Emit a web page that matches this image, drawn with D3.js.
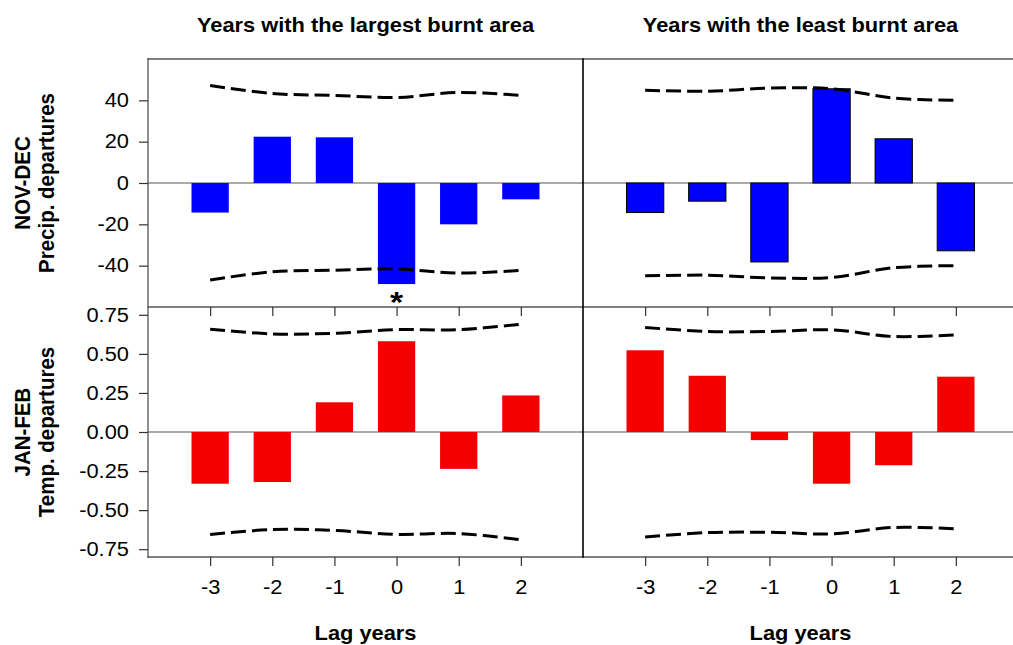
<!DOCTYPE html>
<html>
<head>
<meta charset="utf-8">
<script src="https://cdn.jsdelivr.net/npm/d3@7"></script>
<style>
  html, body { margin: 0; padding: 0; background: #fff; }
  svg { display: block; font-family: "Liberation Sans", Arial, sans-serif; }
</style>
</head>
<body>
<svg id="chart" width="1013" height="645"></svg>
<script>
// Lag years relative to the fire year
const lags = [-3, -2, -1, 0, 1, 2];

// NOV-DEC precipitation departures
const precipLargest      = [-14.3, 22.4, 22.1, -48.9, -20.0, -7.9];
const precipLargestUpper = [47.2, 43.3, 42.4, 41.4, 43.8, 42.4];
const precipLargestLower = [-46.9, -43.0, -42.2, -41.6, -43.6, -42.3];
const precipLeast        = [-14.3, -8.8, -38.2, 45.6, 21.4, -32.8];
const precipLeastUpper   = [44.9, 44.4, 45.9, 45.6, 41.1, 40.0];
const precipLeastLower   = [-44.9, -44.6, -45.9, -45.7, -41.0, -40.0];

// JAN-FEB temperature departures
const tempLargest      = [-0.331, -0.320, 0.190, 0.581, -0.236, 0.234];
const tempLargestUpper = [0.658, 0.628, 0.632, 0.655, 0.655, 0.690];
const tempLargestLower = [-0.656, -0.624, -0.630, -0.655, -0.650, -0.690];
const tempLeast        = [0.523, 0.360, -0.052, -0.331, -0.213, 0.354];
const tempLeastUpper   = [0.669, 0.643, 0.643, 0.654, 0.611, 0.622];
const tempLeastLower   = [-0.672, -0.644, -0.642, -0.652, -0.611, -0.620];

// Axis ticks and labels
const precipTicks = [-40, -20, 0, 20, 40];
const tempTicks = [-0.75, -0.50, -0.25, 0.00, 0.25, 0.50, 0.75];
const columnTitles = ["Years with the largest burnt area", "Years with the least burnt area"];
const rowTitles = [["NOV-DEC", "Precip. departures"], ["JAN-FEB", "Temp. departures"]];
const xTitle = "Lag years";
const significant = [{ col: 0, row: 0, lag: 0 }];

const svg = d3.select("#chart");

// Layout
const colLeft = [148, 583];
const panelW = 435;
const rowTop = [59, 307];
const panelH = [248, 250];
const stretch = 1.12;   // horizontal widening of all lettering
const fontSize = 19.5;

const xScales = colLeft.map(l => d3.scaleLinear().domain([-4, 3]).range([l, l + panelW]));
const yScales = [
  d3.scaleLinear().domain([-60, 60]).range([rowTop[0] + panelH[0], rowTop[0]]),
  d3.scaleLinear().domain([-0.8, 0.8]).range([rowTop[1] + panelH[1], rowTop[1]])
];

const panels = [
  { row: 0, col: 0, values: precipLargest, upper: precipLargestUpper, lower: precipLargestLower, fill: "#0000ff", stroke: "none" },
  { row: 0, col: 1, values: precipLeast,   upper: precipLeastUpper,   lower: precipLeastLower,   fill: "#0000ff", stroke: "#000" },
  { row: 1, col: 0, values: tempLargest,   upper: tempLargestUpper,   lower: tempLargestLower,   fill: "#f50000", stroke: "none" },
  { row: 1, col: 1, values: tempLeast,     upper: tempLeastUpper,     lower: tempLeastLower,     fill: "#f50000", stroke: "none" }
];

const barW = 0.6;

panels.forEach(p => {
  const x = xScales[p.col];
  const y = yScales[p.row];
  const g = svg.append("g");

  // zero reference line
  g.append("line")
    .attr("x1", x.range()[0]).attr("x2", x.range()[1])
    .attr("y1", y(0)).attr("y2", y(0))
    .attr("stroke", "#555").attr("stroke-width", 1.2);

  // bars
  g.selectAll("rect").data(lags.map((l, i) => ({ lag: l, v: p.values[i] })))
    .join("rect")
    .attr("x", d => x(d.lag - barW / 2))
    .attr("width", d => x(d.lag + barW / 2) - x(d.lag - barW / 2))
    .attr("y", d => y(Math.max(0, d.v)))
    .attr("height", d => Math.abs(y(d.v) - y(0)))
    .attr("fill", p.fill)
    .attr("stroke", p.stroke)
    .attr("stroke-width", 1);

  // confidence bounds
  const line = d3.line().x(d => x(d[0])).y(d => y(d[1])).curve(d3.curveCatmullRom.alpha(0.5));
  [p.upper, p.lower].forEach(b => {
    g.append("path")
      .attr("d", line(lags.map((l, i) => [l, b[i]])))
      .attr("fill", "none")
      .attr("stroke", "#000")
      .attr("stroke-width", 3)
      .attr("stroke-dasharray", "15,6");
  });
});

// Text helper: horizontally widened lettering
function label(x, y, txt, opts = {}) {
  return svg.append("text")
    .attr("transform", `translate(${x},${y}) scale(${stretch},1)`)
    .attr("text-anchor", opts.anchor || "middle")
    .attr("font-size", opts.size || fontSize)
    .attr("font-weight", opts.weight || "bold")
    .text(txt);
}

// Significance markers
significant.forEach(s => {
  const x = xScales[s.col], y = yScales[s.row];
  const i = lags.indexOf(s.lag);
  const vals = s.row === 0 ? (s.col === 0 ? precipLargest : precipLeast) : (s.col === 0 ? tempLargest : tempLeast);
  label(x(s.lag), y(vals[i]) + 28, "*", { size: 30 });
});

// Frame lines
const frame = svg.append("g").attr("stroke-linecap", "square");
const right = colLeft[1] + panelW;
const bottom = rowTop[1] + panelH[1];
frame.append("line").attr("x1", colLeft[0]).attr("x2", right).attr("y1", rowTop[0]).attr("y2", rowTop[0]).attr("stroke", "#555").attr("stroke-width", 1.3);
frame.append("line").attr("x1", colLeft[0]).attr("x2", right).attr("y1", rowTop[1]).attr("y2", rowTop[1]).attr("stroke", "#555").attr("stroke-width", 1.3);
frame.append("line").attr("x1", colLeft[0]).attr("x2", right).attr("y1", bottom).attr("y2", bottom).attr("stroke", "#555").attr("stroke-width", 1.3);
frame.append("line").attr("x1", colLeft[0]).attr("x2", colLeft[0]).attr("y1", rowTop[0]).attr("y2", bottom).attr("stroke", "#555").attr("stroke-width", 1.3);
frame.append("line").attr("x1", colLeft[1]).attr("x2", colLeft[1]).attr("y1", rowTop[0]).attr("y2", bottom).attr("stroke", "#000").attr("stroke-width", 1.6);

// Axes
const hyphen = f => d => f(d).replace("\u2212", "-");
function styleAxis(sel) {
  sel.select(".domain").remove();
  sel.selectAll(".tick line").attr("stroke", "#333").attr("stroke-width", 1.2);
  sel.selectAll(".tick text").attr("font-size", fontSize).attr("fill", "#000")
    .attr("font-family", "Liberation Sans, Arial, sans-serif")
    .attr("transform", `scale(${stretch},1)`);
}
[[yScales[0], precipTicks, d3.format("d")], [yScales[1], tempTicks, d3.format(".2f")]].forEach(([ys, tv, fmt]) => {
  svg.append("g").attr("transform", `translate(${colLeft[0]},0)`)
    .call(d3.axisLeft(ys).tickValues(tv).tickSize(9).tickFormat(hyphen(fmt)))
    .call(styleAxis)
    .call(g => g.selectAll(".tick text").attr("x", -17));
});

xScales.forEach(x => {
  // inner ticks at the top of the lower row
  svg.append("g").attr("transform", `translate(0,${rowTop[1]})`)
    .call(d3.axisBottom(x).tickValues(lags).tickSize(9).tickFormat(""))
    .call(styleAxis);
  // labelled ticks along the bottom
  svg.append("g").attr("transform", `translate(0,${bottom})`)
    .call(d3.axisBottom(x).tickValues(lags).tickSize(9).tickPadding(14).tickFormat(hyphen(d3.format("d"))))
    .call(styleAxis);
});

// Titles
xScales.forEach((x, c) => {
  label(x(-0.5), 32, columnTitles[c]);
  label((x(-3) + x(2)) / 2, 640, xTitle);
});

rowTitles.forEach((lines, r) => {
  const cy = rowTop[r] + panelH[r] / 2;
  lines.forEach((t, k) => {
    svg.append("text")
      .attr("transform", `translate(${30 + k * 24},${cy}) rotate(-90) scale(1,${stretch})`)
      .attr("text-anchor", "middle")
      .attr("font-size", 20.5).attr("font-weight", "bold")
      .text(t);
  });
});
</script>
</body>
</html>
